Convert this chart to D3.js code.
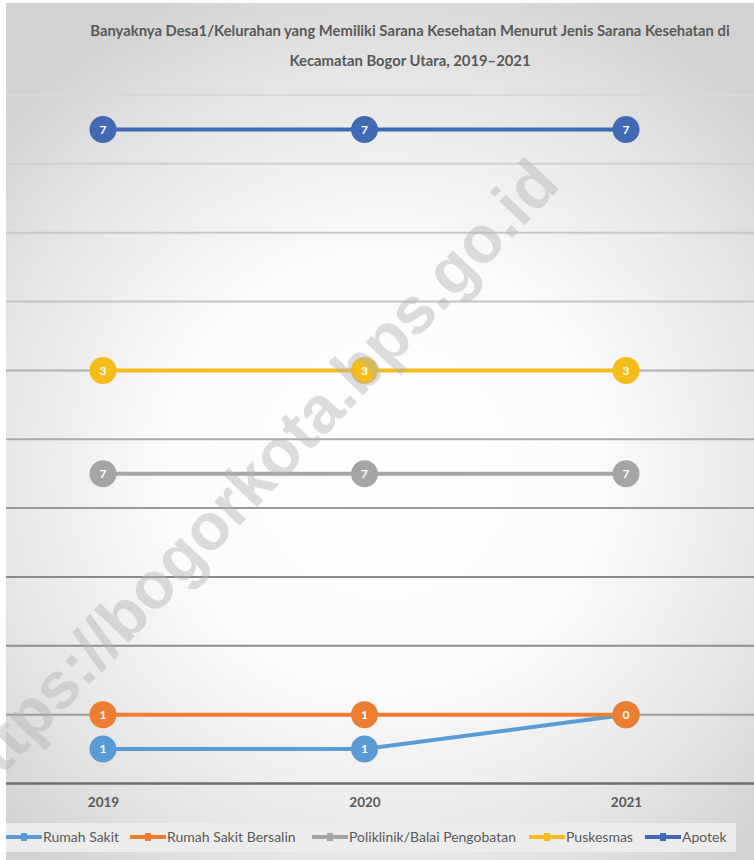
<!DOCTYPE html>
<html><head><meta charset="utf-8">
<script src="https://cdn.jsdelivr.net/npm/d3@7/dist/d3.min.js"></script>
<style>body{margin:0;background:#fff}svg{display:block}</style>
</head><body>
<svg id="c" width="754" height="860"></svg>
<script>
const years = ["2019", "2020", "2021"];
const seriesNames = ["Rumah Sakit", "Rumah Sakit Bersalin", "Poliklinik/Balai Pengobatan", "Puskesmas", "Apotek"];
const rumahSakit = [1, 1, 2];
const rumahSakitBersalin = [1, 1, 0];
const poliklinik = [7, 7, 7];
const puskesmas = [3, 3, 3];
const apotek = [7, 7, 7];
const yTicks = [0, 2, 4, 6, 8, 10, 12, 14, 16, 18, 20];
const titleLines = ["Banyaknya Desa1/Kelurahan yang Memiliki Sarana Kesehatan Menurut Jenis Sarana Kesehatan di", "Kecamatan Bogor Utara, 2019–2021"];
const colors = ["#5B9BD5", "#ED7D31", "#A5A5A5", "#F5BC1A", "#4169B4"];
const gridColors = ["#6e6e6e", "#9a9a9a", "#8e8e8e", "#8a8a8a", "#999", "#aaa", "#b0b0b0", "#c4c4c4", "#c8c8c8", "#d0d0d0", "#d8d8d8"];

const values = [rumahSakit, rumahSakitBersalin, poliklinik, puskesmas, apotek];
const table = years.map((y, i) => {
  const o = {year: y};
  seriesNames.forEach((s, k) => o[s] = values[k][i]);
  return o;
});
const stacked = d3.stack().keys(seriesNames)(table);

const svg = d3.select("#c");
const defs = svg.append("defs");
const rg = defs.append("radialGradient").attr("id", "bg").attr("gradientUnits", "userSpaceOnUse")
  .attr("cx", 385).attr("cy", 470).attr("r", 520);
rg.append("stop").attr("offset", "0").attr("stop-color", "#ffffff");
rg.append("stop").attr("offset", "0.42").attr("stop-color", "#fbfbfb");
rg.append("stop").attr("offset", "0.75").attr("stop-color", "#e6e6e6");
rg.append("stop").attr("offset", "1").attr("stop-color", "#d2d2d2");

svg.append("rect").attr("x", 6).attr("y", 3).attr("width", 748).attr("height", 857).attr("fill", "url(#bg)");

const x = d3.scalePoint().domain(years).range([103, 626]);
const y = d3.scaleLinear().domain([0, 20]).range([783.5, 95]);

// gridlines
svg.append("g").selectAll("line").data(yTicks).join("line")
  .attr("x1", 6).attr("x2", 754)
  .attr("y1", d => y(d)).attr("y2", d => y(d))
  .attr("stroke", (d, i) => gridColors[i]).attr("stroke-width", (d, i) => i === 0 ? 2.5 : 2);

// x axis labels
const xa = svg.append("g").attr("transform", "translate(0,803)")
  .call(d3.axisBottom(x).tickSize(0).tickPadding(0));
xa.select(".domain").remove();
xa.selectAll("text").attr("fill", "#595959").attr("font-family", "Lato, sans-serif")
  .attr("font-size", 13.5).attr("font-weight", "bold").attr("dy", "0.32em");

// title
svg.append("g").selectAll("text").data(titleLines).join("text")
  .attr("x", 410).attr("y", (d, i) => 36 + i * 30)
  .attr("text-anchor", "middle").attr("fill", "#595959")
  .attr("font-family", "Lato, sans-serif").attr("font-weight", "bold").attr("font-size", 14.8)
  .text(d => d);

// series
const line = d3.line().x(d => x(d.data.year)).y(d => y(d[1]));
stacked.forEach((s, k) => {
  const g = svg.append("g");
  g.append("path").datum(s).attr("d", line).attr("fill", "none")
    .attr("stroke", colors[k]).attr("stroke-width", 4);
  const pts = g.selectAll("g").data(s).join("g")
    .attr("transform", d => `translate(${x(d.data.year)},${y(d[1])})`);
  pts.append("circle").attr("r", 13.5).attr("fill", colors[k]);
  pts.append("text").attr("text-anchor", "middle").attr("dy", "0.36em")
    .attr("fill", "#fff").attr("font-family", "Lato, sans-serif").attr("font-weight", "bold")
    .attr("font-size", 12).text(d => d.data[s.key]);
});

// legend
const lg = svg.append("g");
lg.append("rect").attr("x", 6).attr("y", 823).attr("width", 730).attr("height", 29).attr("fill", "#ececec");
const legendX = [6, 130, 312, 529, 645];
seriesNames.forEach((n, k) => {
  const g = lg.append("g").attr("transform", `translate(${legendX[k]},837)`);
  g.append("line").attr("x1", 0).attr("x2", 36).attr("stroke", colors[k]).attr("stroke-width", 4);
  g.append("rect").attr("x", 15).attr("y", -4).attr("width", 6).attr("height", 8).attr("fill", colors[k]);
  g.append("text").attr("x", 37).attr("dy", "0.35em").attr("fill", "#595959")
    .attr("font-family", "Lato, sans-serif").attr("font-size", 14).text(n);
});

// watermark
svg.append("text").attr("transform", "translate(562,186) rotate(-46.5)")
  .attr("text-anchor", "end").attr("font-family", "Liberation Sans, Arial, sans-serif")
  .attr("font-weight", "bold").attr("font-size", 66).attr("fill", "#b4b4b4").attr("fill-opacity", 0.45)
  .text("https://bogorkota.bps.go.id");
</script>
</body></html>
